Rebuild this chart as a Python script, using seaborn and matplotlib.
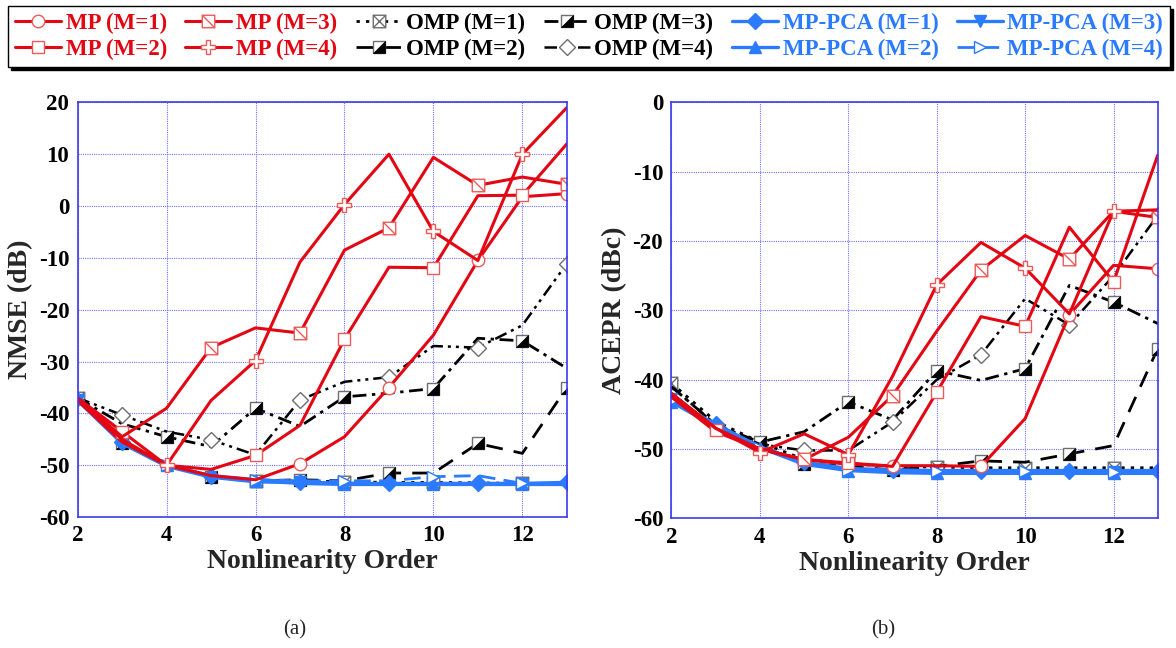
import matplotlib
matplotlib.use("Agg")
import matplotlib.pyplot as plt
import seaborn as sns
from matplotlib.path import Path
from matplotlib.lines import Line2D
from matplotlib.legend_handler import HandlerTuple

# ---------------- data ----------------
orders = [2, 3, 4, 5, 6, 7, 8, 9, 10, 11, 12, 13]
xtick_values = [2, 4, 6, 8, 10, 12]
nmse_ticks = [-60, -50, -40, -30, -20, -10, 0, 10, 20]
acepr_ticks = [-60, -50, -40, -30, -20, -10, 0]

labels = ["MP (M=1)", "MP (M=2)", "MP (M=3)", "MP (M=4)",
          "OMP (M=1)", "OMP (M=2)", "OMP (M=3)", "OMP (M=4)",
          "MP-PCA (M=1)", "MP-PCA (M=2)", "MP-PCA (M=3)", "MP-PCA (M=4)"]

# NMSE (dB)
nmse_mp_m1 = [-37.5, -45.5, -50.0, -52.0, -52.8, -49.7, -44.5, -35.0, -24.9, -10.5, 1.8, 2.4]
nmse_mp_m2 = [-37.0, -43.5, -50.0, -50.8, -48.1, -42.3, -25.7, -11.8, -11.9, 2.0, 2.1, 12.0]
nmse_mp_m3 = [-37.0, -44.5, -39.0, -27.3, -23.5, -24.5, -8.5, -4.2, 9.4, 4.0, 5.6, 4.2]
nmse_mp_m4 = [-37.0, -45.0, -50.0, -37.5, -29.8, -10.8, 0.3, 10.0, -4.9, -10.5, 10.0, 19.0]
nmse_omp_m1 = [-37.0, -45.5, -50.0, -52.0, -53.0, -53.0, -53.2, -53.3, -53.3, -53.4, -53.5, -53.5]
nmse_omp_m2 = [-37.0, -45.7, -50.0, -52.2, -53.0, -52.8, -53.0, -51.5, -51.5, -45.8, -47.7, -35.0]
nmse_omp_m3 = [-37.0, -42.0, -44.5, -46.4, -39.0, -42.5, -36.8, -36.1, -35.2, -25.5, -26.0, -31.3]
nmse_omp_m4 = [-37.0, -40.3, -43.5, -45.1, -48.0, -37.4, -33.9, -33.0, -27.0, -27.3, -23.0, -11.1]
nmse_pca_m1 = [-37.5, -45.5, -50.0, -52.0, -52.8, -53.2, -53.5, -53.5, -53.5, -53.5, -53.5, -53.3]
nmse_pca_m2 = [-37.0, -45.5, -50.0, -52.2, -53.0, -53.5, -53.7, -53.7, -53.7, -53.7, -53.7, -53.7]
nmse_pca_m3 = [-37.5, -45.8, -50.2, -52.3, -53.2, -53.3, -53.5, -53.6, -53.6, -53.6, -53.6, -53.6]
nmse_pca_m4 = [-37.5, -45.5, -50.0, -52.0, -52.8, -53.0, -53.0, -53.0, -52.2, -52.0, -53.5, -53.5]

# ACEPR (dBc)
acepr_mp_m1 = [-42.5, -47.5, -50.0, -51.5, -52.2, -52.4, -52.4, -52.5, -45.6, -30.6, -23.5, -24.0]
acepr_mp_m2 = [-42.3, -47.3, -50.0, -51.5, -52.0, -52.5, -41.8, -30.9, -32.3, -18.0, -25.9, -7.6]
acepr_mp_m3 = [-42.0, -47.0, -50.0, -51.5, -48.3, -42.3, -33.0, -24.2, -19.2, -22.6, -15.7, -16.6]
acepr_mp_m4 = [-42.0, -47.0, -50.5, -47.8, -50.8, -39.5, -26.3, -20.2, -23.9, -30.5, -15.7, -15.5]
acepr_omp_m1 = [-40.5, -46.0, -49.0, -51.5, -52.1, -52.5, -52.6, -52.7, -52.7, -52.7, -52.7, -52.7]
acepr_omp_m2 = [-42.0, -47.0, -49.5, -52.1, -52.5, -53.0, -52.5, -51.7, -51.9, -50.7, -49.5, -35.5]
acepr_omp_m3 = [-41.0, -46.5, -49.0, -47.5, -43.2, -45.8, -38.7, -40.1, -38.4, -26.4, -28.8, -31.9]
acepr_omp_m4 = [-41.0, -46.5, -49.3, -50.2, -50.2, -46.1, -40.0, -36.4, -28.3, -32.1, -25.0, -16.3]
acepr_pca_m1 = [-43.0, -46.4, -49.7, -51.9, -52.8, -53.0, -53.1, -53.1, -53.1, -53.1, -53.1, -53.1]
acepr_pca_m2 = [-43.2, -46.8, -49.8, -52.2, -53.1, -53.4, -53.5, -53.5, -53.5, -53.5, -53.5, -53.5]
acepr_pca_m3 = [-42.8, -46.6, -49.7, -52.0, -53.0, -53.2, -53.3, -53.3, -53.3, -53.3, -53.3, -53.3]
acepr_pca_m4 = [-43.0, -46.5, -49.8, -52.1, -53.0, -53.2, -53.2, -53.0, -53.2, -53.2, -53.3, -53.3]

nmse_series = [nmse_mp_m1, nmse_mp_m2, nmse_mp_m3, nmse_mp_m4,
               nmse_omp_m1, nmse_omp_m2, nmse_omp_m3, nmse_omp_m4,
               nmse_pca_m1, nmse_pca_m2, nmse_pca_m3, nmse_pca_m4]
acepr_series = [acepr_mp_m1, acepr_mp_m2, acepr_mp_m3, acepr_mp_m4,
                acepr_omp_m1, acepr_omp_m2, acepr_omp_m3, acepr_omp_m4,
                acepr_pca_m1, acepr_pca_m2, acepr_pca_m3, acepr_pca_m4]

# ---------------- styles ----------------
M, L, C = Path.MOVETO, Path.LINETO, Path.CLOSEPOLY
SQ = [(-1, -1), (1, -1), (1, 1), (-1, 1), (-1, -1)]
SQC = [M, L, L, L, C]
diag_sq = Path(SQ + [(-1, 1), (1, -1)], SQC + [M, L])
x_sq = Path(SQ + [(-1, 1), (1, -1), (-1, -1), (1, 1)], SQC + [M, L, M, L])
tri_lr = Path([(-1, -1), (1, -1), (1, 1), (-1, -1)], [M, L, L, C])

RED = "#e30613"
REDM = "#ee5a5a"
BLUE = "#2a7bff"
GRAY = "#6e6e6e"
EVEN = [0, 2, 4, 6, 8, 10]
ODD = [1, 3, 5, 7, 9, 11]

styles = [
    dict(color=RED, ls="-", lw=2.2, marker="o", ms=9, mfc="white", mec=REDM, mew=1.0, every=[5, 7, 9, 11]),
    dict(color=RED, ls="-", lw=2.2, marker="s", ms=9, mfc="white", mec=REDM, mew=1.0, every=[1, 4, 6, 8, 10]),
    dict(color=RED, ls="-", lw=2.2, marker=diag_sq, ms=9, mfc="white", mec=REDM, mew=1.0, every=[3, 5, 7, 9, 11]),
    dict(color=RED, ls="-", lw=2.2, marker="P", ms=10, mfc="white", mec=REDM, mew=1.0, every=[2, 4, 6, 8, 10]),
    dict(color="black", ls=(0, (1.2, 2.2)), lw=2.0, marker=x_sq, ms=9, mfc="white", mec=GRAY, mew=1.0, every=[0, 4, 6, 8, 10]),
    dict(color="black", ls=(0, (6, 4)), lw=2.0, marker="s", ms=9, mfc="white", mec=GRAY, mew=1.0, every=ODD, half=True),
    dict(color="black", ls=(0, (5, 2, 1.2, 2)), lw=2.0, marker="s", ms=9, mfc="white", mec=GRAY, mew=1.0, every=[2, 4, 6, 8, 10], half=True),
    dict(color="black", ls=(0, (5, 2, 1.2, 2, 1.2, 2)), lw=1.8, marker="D", ms=8, mfc="white", mec=GRAY, mew=1.0, every=ODD),
    dict(color=BLUE, ls="-", lw=2.4, marker="D", ms=8, mfc=BLUE, mec=BLUE, mew=1.0, every=ODD),
    dict(color=BLUE, ls="-", lw=2.4, marker="^", ms=9, mfc=BLUE, mec=BLUE, mew=1.0, every=EVEN),
    dict(color=BLUE, ls="-", lw=2.4, marker="v", ms=9, mfc=BLUE, mec=BLUE, mew=1.0, every=[0, 5, 10]),
    dict(color=BLUE, ls=(0, (6, 3)), lw=2.0, marker=">", ms=9, mfc="white", mec=BLUE, mew=1.0, every=EVEN),
]
text_colors = [RED] * 4 + ["black"] * 4 + [BLUE] * 4
draw_order = [4, 5, 6, 7, 8, 9, 10, 11, 0, 1, 2, 3]

sns.set_theme(style="white")
plt.rcParams["font.family"] = ["Liberation Serif", "DejaVu Serif"]
plt.rcParams["font.weight"] = "bold"

fig = plt.figure(figsize=(11.76, 6.48), dpi=100)
axL = fig.add_axes([0.066, 0.202, 0.416, 0.640])
axR = fig.add_axes([0.571, 0.200, 0.4135, 0.642])


def draw(ax, y, st):
    sns.lineplot(x=orders, y=y, ax=ax, color=st["color"], linestyle=st["ls"],
                 linewidth=st["lw"], marker=st["marker"], markevery=st["every"],
                 markersize=st["ms"], markerfacecolor=st["mfc"],
                 markeredgecolor=st["mec"], markeredgewidth=st["mew"],
                 errorbar=None, legend=False)
    if st.get("half"):
        sns.lineplot(x=orders, y=y, ax=ax, color="black", linestyle="none",
                     marker=tri_lr, markevery=st["every"], markersize=st["ms"],
                     markerfacecolor="black", markeredgecolor="black",
                     markeredgewidth=0.5, errorbar=None, legend=False)


for ax, series, ylab, yt in [(axL, nmse_series, "NMSE (dB)", nmse_ticks),
                             (axR, acepr_series, "ACEPR (dBc)", acepr_ticks)]:
    for i in draw_order:
        draw(ax, series[i], styles[i])
    ax.set_xlim(2, 13)
    ax.set_ylim(yt[0], yt[-1])
    ax.set_xticks(xtick_values)
    ax.set_yticks(yt)
    ax.set_xticklabels([str(v) for v in xtick_values], fontsize=16.5, fontweight="bold")
    ax.set_yticklabels([str(v) for v in yt], fontsize=16.5, fontweight="bold")
    ax.tick_params(length=0, pad=6, colors="black")
    ax.grid(True, color="#7070ff", linestyle=(0, (1, 1)), linewidth=0.8)
    for sp in ax.spines.values():
        sp.set_color("#3b3bf0")
        sp.set_linewidth(1.2)
    ax.set_xlabel("Nonlinearity Order", fontsize=20, fontweight="bold", labelpad=2)
    ax.set_ylabel(ylab, fontsize=20, fontweight="bold", labelpad=4)

# legend proxies
handles = []
for st in styles:
    base = Line2D([], [], color=st["color"], linestyle=st["ls"], linewidth=st["lw"],
                  marker=st["marker"], markersize=st["ms"], markerfacecolor=st["mfc"],
                  markeredgecolor=st["mec"], markeredgewidth=st["mew"])
    if st.get("half"):
        tri = Line2D([], [], linestyle="none", marker=tri_lr, markersize=st["ms"],
                     markerfacecolor="black", markeredgecolor="black", markeredgewidth=0.5)
        handles.append((base, tri))
    else:
        handles.append(base)

leg = fig.legend(handles, labels, loc="lower left",
                 bbox_to_anchor=(0.007, 0.897, 0.988, 0.095), mode="expand", ncol=6,
                 frameon=True, fancybox=False, edgecolor="black",
                 shadow={"color": "black", "alpha": 1},
                 prop=dict(family="Liberation Serif", weight="bold", size=16.5),
                 handlelength=2.0, handletextpad=0.2, columnspacing=0.4,
                 borderaxespad=0, labelspacing=0.2, borderpad=0.3,
                 handler_map={tuple: HandlerTuple(ndivide=1)})
leg.get_frame().set_linewidth(1.0)
for t, c in zip(leg.get_texts(), text_colors):
    t.set_color(c)

fig.text(0.251, 0.028, "(a)", ha="center", va="center", fontsize=15, fontweight="normal")
fig.text(0.751, 0.028, "(b)", ha="center", va="center", fontsize=15, fontweight="normal")

fig.savefig("out.png", dpi=100)
